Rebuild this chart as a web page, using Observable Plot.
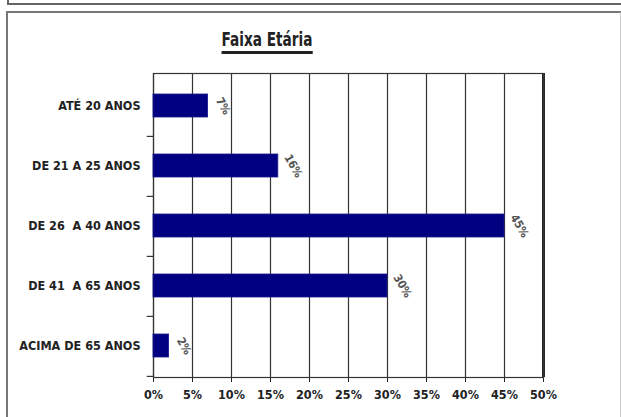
<!DOCTYPE html>
<html>
<head>
<meta charset="utf-8">
<script src="https://cdn.jsdelivr.net/npm/d3@7"></script>
<script src="https://cdn.jsdelivr.net/npm/@observablehq/plot@0.6"></script>
<style>
  body { margin: 0; background: #fff; }
  #wrap { position: relative; width: 621px; height: 417px; overflow: hidden; background: #fff; }
  #prevbox { position: absolute; left: 7px; top: -12px; width: 620px; height: 13px; border: 2px solid #666; }
  #box { position: absolute; left: 6px; top: 11px; width: 612px; height: 420px; border: 2px solid #777; border-right-color: #ccc; }
  #title { position: absolute; left: 267px; top: 29px; transform: translateX(-50%) scaleX(0.8);
    font-family: "Liberation Sans Narrow", "Arial Narrow", "DejaVu Sans Condensed", sans-serif;
    font-weight: bold; font-size: 19px; line-height: 21px; color: #222; white-space: nowrap;
    border-bottom: 3px solid #222; padding-bottom: 1px; }
  #chart { position: absolute; left: 0; top: 0; }
</style>
</head>
<body>
<div id="wrap">
  <div id="prevbox"></div>
  <div id="box"></div>
  <div id="title">Faixa Etária</div>
  <div id="chart"></div>
</div>
<script>
const categories = ["ATÉ 20 ANOS", "DE 21 A 25 ANOS", "DE 26  A 40 ANOS", "DE 41  A 65 ANOS", "ACIMA DE 65 ANOS"];
const values = [7, 16, 45, 30, 2];
const valueLabels = ["7%", "16%", "45%", "30%", "2%"];
const xTicks = [0, 5, 10, 15, 20, 25, 30, 35, 40, 45, 50];

const data = categories.map((c, i) => ({cat: c, v: values[i], label: valueLabels[i]}));

const W = 621, H = 417, mT = 73, mB = 40, mL = 153, mR = 78;
const halfStep = (H - mT - mB) / categories.length / 2;
const font = '"Liberation Sans Narrow", "Arial Narrow", "DejaVu Sans Condensed", sans-serif';

const chart = Plot.plot({
  width: W,
  height: H,
  marginTop: mT,
  marginBottom: mB,
  marginLeft: mL,
  marginRight: mR,
  style: {fontFamily: font, fontWeight: "bold", fontSize: "12.5px", color: "#222", background: "transparent"},
  x: {domain: [0, 50], ticks: xTicks, tickFormat: d => d + "%", label: null, tickSize: 5, tickPadding: 8},
  y: {domain: categories, paddingInner: 0.62, paddingOuter: 0.31, label: null, tickSize: 0, tickPadding: 13},
  marks: [
    Plot.ruleX(xTicks, {stroke: "#333", strokeWidth: 1.2}),
    Plot.ruleX([50], {stroke: "#111", strokeWidth: 2.8}),
    Plot.frame({stroke: "#333", strokeWidth: 1.2}),
    Plot.ruleY(categories, {y: d => d, x1: -0.8, x2: 0, dy: halfStep, stroke: "#333", strokeWidth: 1.2}),
    Plot.barX(data, {y: "cat", x: "v", fill: "#000080", stroke: "#1a1a8c", strokeWidth: 0.8}),
    Plot.text(data, {y: "cat", x: "v", text: "label", dx: 15, rotate: 60, textAnchor: "middle",
      fill: "#555", fontSize: 11.5, fontWeight: "bold"})
  ]
});
document.getElementById("chart").append(chart);
</script>
</body>
</html>
